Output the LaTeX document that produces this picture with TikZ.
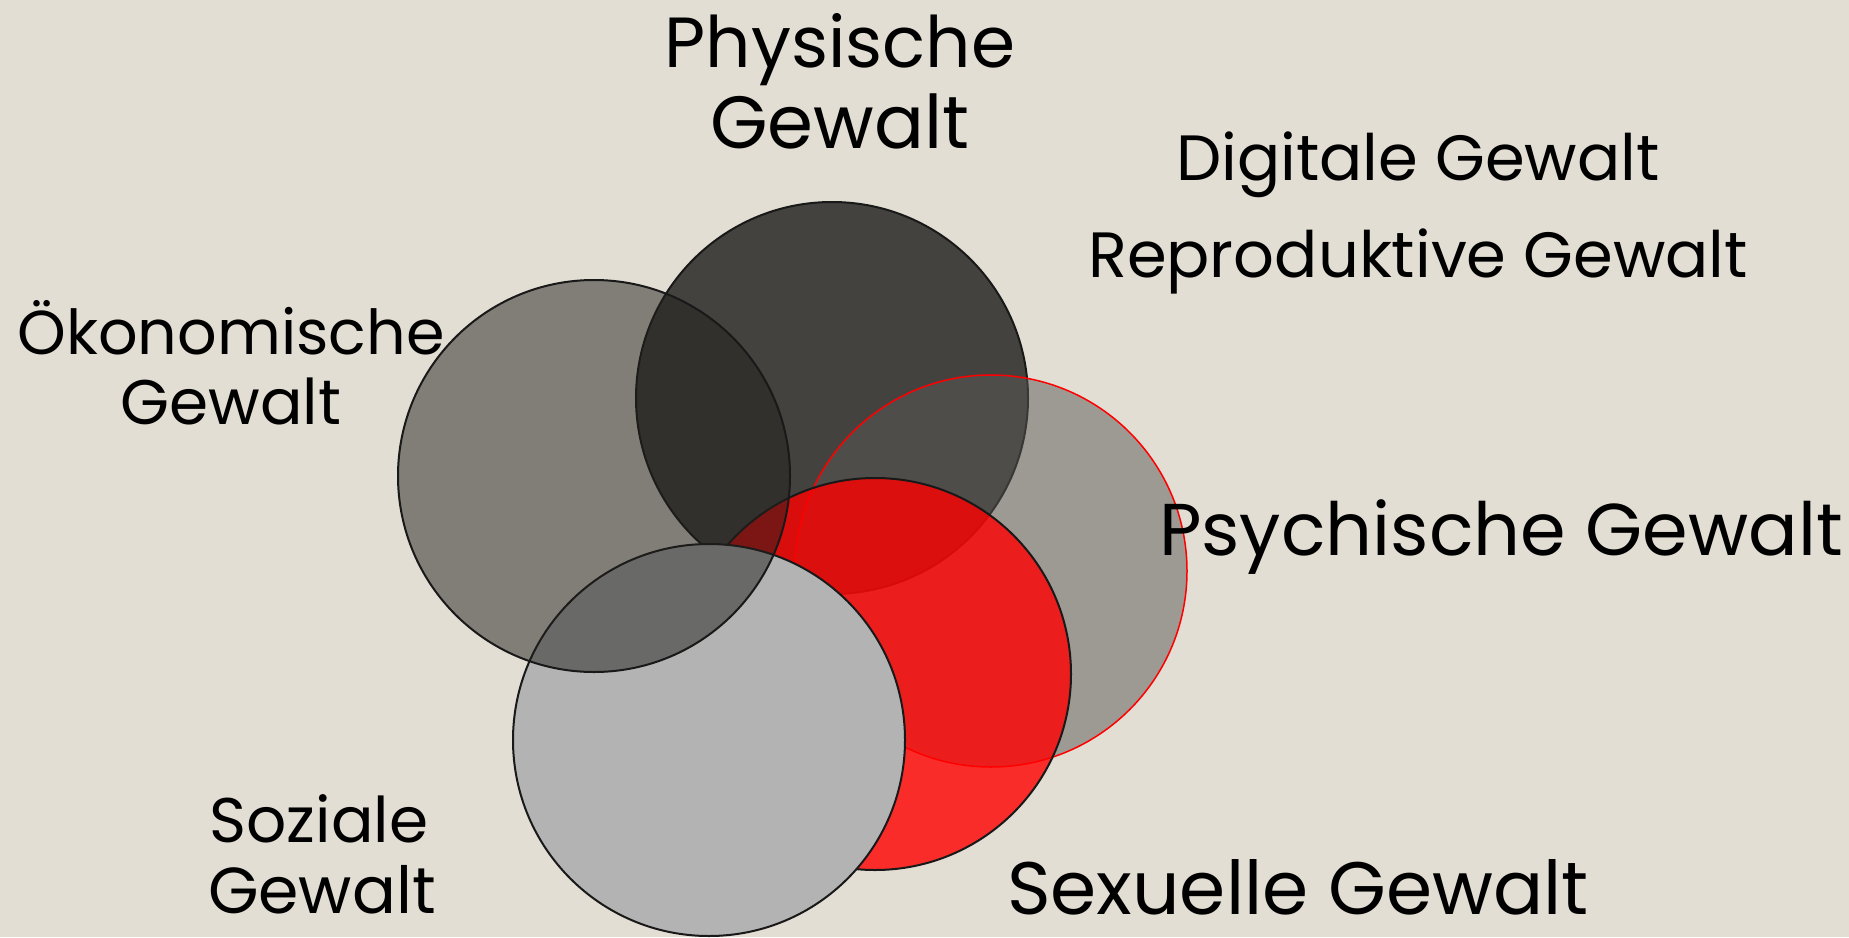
\documentclass[tikz,border=0pt]{standalone}
\usepackage{fontspec}
\setmainfont{Poppins}
\definecolor{bg}{RGB}{227,222,211}
\definecolor{physC}{RGB}{68,66,62}
\definecolor{psychC}{RGB}{89,88,85}
\definecolor{sexC}{RGB}{255,0,0}
\definecolor{sozC}{RGB}{179,179,179}
\definecolor{oekC}{RGB}{33,32,29}
\definecolor{lineC}{RGB}{25,25,25}
\tikzset{
  ring/.style={circle, minimum size=392pt, inner sep=0pt, line width=2pt},
  lbl/.style={anchor=base, inner sep=0pt, text=black},
}
\newcommand{\fs}[1]{\fontsize{#1}{#1}\selectfont}
\begin{document}
\begin{tikzpicture}[x=1pt,y=-1pt]
\fill[bg] (0,0) rectangle (1849,937);
\useasboundingbox (0,0) rectangle (1849,937);
% circles, bottom to top
\node[ring, fill=physC, draw=lineC] (phys) at (832,398) {};
\node[ring, fill=psychC, fill opacity=0.5, draw=red, line width=1.5pt] (psych) at (991,571) {};
\node[ring, fill=sexC, fill opacity=0.8, draw=lineC] (sex) at (875,674) {};
\node[ring, fill=sozC, draw=lineC] (soz) at (709,740) {};
\node[ring, fill=oekC, fill opacity=0.5, draw=lineC] (oek) at (594,476) {};
% labels
\node[lbl, font=\fs{71}] (physA) at (840,67) {Physische};
\node[lbl, font=\fs{74}] (physB) at (840,148) {Gewalt};
\node[lbl, font=\fs{64}] (dig) at (1418,180) {Digitale Gewalt};
\node[lbl, font=\fs{64}] (rep) at (1418,277) {Reproduktive Gewalt};
\node[lbl, font=\fs{62}] (oekA) at (231,354) {Ökonomische};
\node[lbl, font=\fs{63}] (oekB) at (231,424) {Gewalt};
\node[lbl, font=\fs{73.4}] (psy) at (1501,555) {Psychische Gewalt};
\node[lbl, font=\fs{74.3}, text depth=0pt] (sexL) at (1298,914) {Sexuelle Gewalt};
\node[lbl, font=\fs{63}] (sozA) at (319,842) {Soziale};
\node[lbl, font=\fs{65}, text depth=0pt] (sozB) at (322,913) {Gewalt};
\end{tikzpicture}
\end{document}
